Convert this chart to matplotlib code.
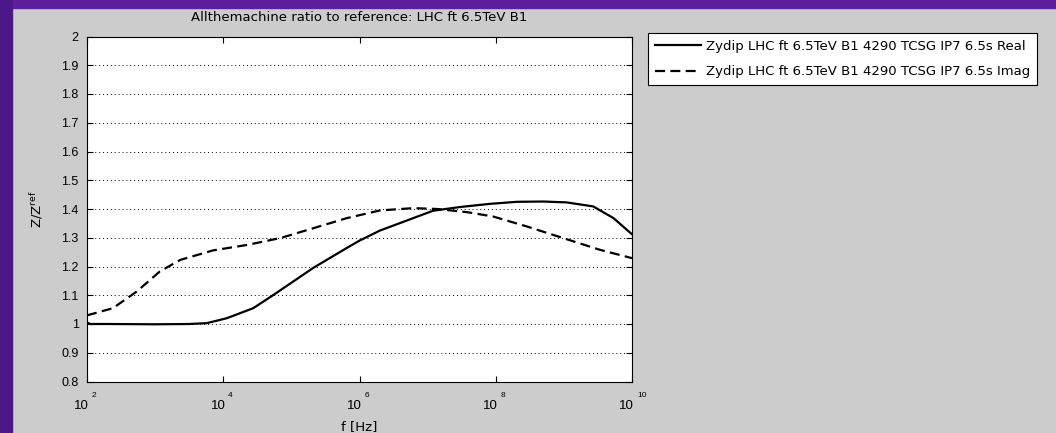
import matplotlib.pyplot as plt
from matplotlib.patches import Rectangle
from matplotlib.transforms import offset_copy
import numpy as np

# values (log10 of frequency)
log_f_real = [2.0, 2.05, 2.3, 3.0, 3.5, 3.76, 4.05, 4.44, 4.73, 5.32, 5.81, 6.0,
              6.30, 7.08, 7.48, 7.92, 8.31, 8.7, 9.04, 9.43, 9.73, 10.0]
z_real = [1.005, 1.0, 1.0, 0.999, 1.0, 1.003, 1.02, 1.055, 1.10, 1.195, 1.264, 1.29,
          1.325, 1.394, 1.407, 1.418, 1.425, 1.426, 1.423, 1.409, 1.368, 1.312]

log_f_imag = [2.0, 2.38, 2.73, 3.07, 3.37, 3.85, 4.35, 4.84, 5.32, 5.81, 6.30,
              6.79, 7.14, 7.58, 7.96, 8.46, 9.04, 9.53, 10.0]
z_imag = [1.03, 1.055, 1.113, 1.183, 1.223, 1.256, 1.275, 1.299, 1.333, 1.368, 1.395,
          1.403, 1.400, 1.389, 1.374, 1.339, 1.295, 1.258, 1.229]

label_real = "Zydip LHC ft 6.5TeV B1 4290 TCSG IP7 6.5s Real"
label_imag = "Zydip LHC ft 6.5TeV B1 4290 TCSG IP7 6.5s Imag"
x_exps = [2, 4, 6, 8, 10]
y_ticks = np.round(np.arange(0.8, 2.01, 0.1), 1)

plt.rcParams['font.family'] = ['DejaVu Sans']
tick_font = 'Liberation Sans'

fig = plt.figure(figsize=(10.56, 4.33), dpi=100, facecolor='#cccccc')
W, H = 1056, 433

# purple window frame
fig.patches.append(Rectangle((0, 1 - 8 / H), 1, 8 / H, transform=fig.transFigure,
                             color='#5f1e9b', zorder=-1))
fig.patches.append(Rectangle((0, 0), 12 / W, 1, transform=fig.transFigure,
                             color='#4c1788', zorder=-1))

ax = fig.add_axes([87 / W, 1 - 381.5 / H, 545 / W, 345 / H])
ax.set_facecolor('white')

ax.plot(10 ** np.array(log_f_real), z_real, color='black', lw=1.6, label=label_real)
ax.plot(10 ** np.array(log_f_imag), z_imag, color='black', lw=1.6,
        dashes=(4.5, 2.4), label=label_imag)

ax.set_xscale('log')
ax.set_xlim(1e2, 1e10)
ax.set_ylim(0.8, 2.0)
ax.set_xticks([10.0 ** e for e in x_exps])
ax.xaxis.set_minor_locator(plt.NullLocator())
ax.set_xticklabels([])
ax.set_yticks(y_ticks)
ax.set_yticklabels(['%g' % v for v in y_ticks], family=tick_font, fontsize=9)
ax.tick_params(direction='in', top=True, right=True, length=4, width=0.8,
               pad=6, colors='black')
ax.yaxis.grid(True, linestyle=(0, (1, 3)), color='black', lw=0.7)
for s in ax.spines.values():
    s.set_linewidth(0.8)

# MATLAB-style "10" with raised exponent
tr = ax.get_xaxis_transform()
for e in x_exps:
    ax.text(10.0 ** e, 0, '10', transform=offset_copy(tr, fig, x=1.5, y=-13.5, units='points'),
            ha='right', va='top', fontsize=9.5, family=tick_font)
    ax.text(10.0 ** e, 0, str(e), transform=offset_copy(tr, fig, x=3.5, y=-7.5, units='points'),
            ha='left', va='top', fontsize=6, family=tick_font)

ax.set_title('Allthemachine ratio to reference: LHC ft 6.5TeV B1', fontsize=9.5, pad=11)
ax.set_xlabel('f [Hz]', fontsize=9.5, labelpad=22)
ax.set_ylabel(r'Z/Z$^{\rm ref}$', fontsize=9.5, labelpad=12)

leg = fig.legend(loc='upper left', bbox_to_anchor=(648 / W, 1 - 33 / H), fontsize=9.5,
                 frameon=True, fancybox=False, edgecolor='black', facecolor='white',
                 framealpha=1, handlelength=3.5, handletextpad=0.4, borderaxespad=0,
                 borderpad=0.5, labelspacing=0.95)
leg.get_frame().set_linewidth(0.8)

fig.savefig('out.png', dpi=100, facecolor=fig.get_facecolor())
